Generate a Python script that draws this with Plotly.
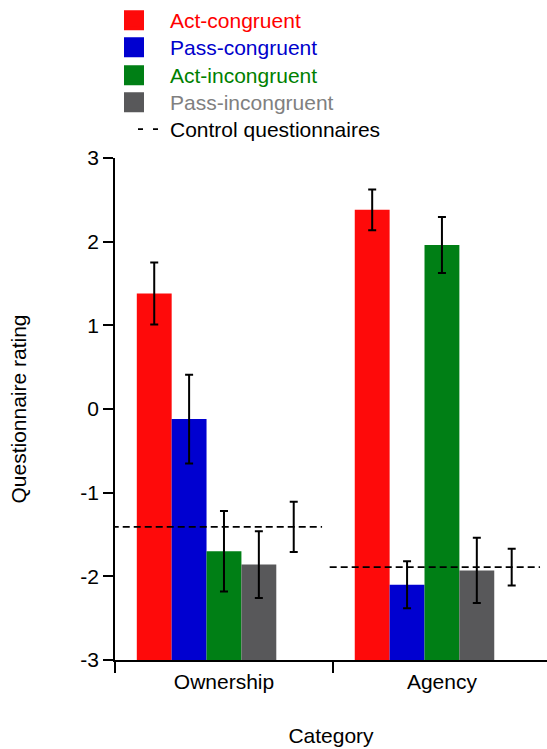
import plotly.graph_objects as go

categories = ["Ownership", "Agency"]
series_names = ["Act-congruent", "Pass-congruent", "Act-incongruent", "Pass-incongruent"]
control_name = "Control questionnaires"
act_congruent = [1.38, 2.38]
act_congruent_err = [0.37, 0.245]
pass_congruent = [-0.12, -2.10]
pass_congruent_err = [0.53, 0.28]
act_incongruent = [-1.70, 1.96]
act_incongruent_err = [0.48, 0.335]
pass_incongruent = [-1.86, -1.93]
pass_incongruent_err = [0.40, 0.39]
control = [-1.41, -1.89]
control_err = [0.30, 0.22]
y_tickvals = [-3, -2, -1, 0, 1, 2, 3]
y_ticktext = ["-3", "-2", "-1", "0", "1", "2", "3"]

bar_colors = ["#fe0a0a", "#0000d0", "#007f15", "#58585a"]
text_colors = ["#ff0000", "#0000cc", "#008000", "#808080"]
BASE = -3
FONT = "Liberation Sans, Arial, Helvetica, sans-serif"
FS = 21

series = [
    (act_congruent, act_congruent_err),
    (pass_congruent, pass_congruent_err),
    (act_incongruent, act_incongruent_err),
    (pass_incongruent, pass_incongruent_err),
]

xpos = list(range(len(categories)))
fig = go.Figure()

for (vals, errs), col in zip(series, bar_colors):
    fig.add_trace(go.Bar(
        x=xpos, y=[v - BASE for v in vals], base=BASE,
        marker=dict(color=col, line=dict(width=0)),
        error_y=dict(type="data", array=errs, color="black", thickness=2, width=4),
        showlegend=False,
    ))

# invisible control "bar" slot carrying only its error bar
fig.add_trace(go.Bar(
    x=xpos, y=[v - BASE for v in control], base=BASE,
    marker=dict(color="rgba(0,0,0,0)", line=dict(width=0)),
    error_y=dict(type="data", array=control_err, color="black", thickness=2, width=4),
    showlegend=False,
))

# control dashed lines
lx, ly = [], []
for i, c in zip(xpos, control):
    lx += [i - 0.515, i + 0.45, None]
    ly += [c, c, None]
fig.add_trace(go.Scatter(
    x=lx, y=ly, mode="lines",
    line=dict(color="black", width=1.8, dash="7px,4px"),
    showlegend=False,
))

# legend entries, each in its own legend box for exact row spacing
row_centers = [20, 47, 75, 102, 129]  # px from top
PLOT_TOP, PLOT_H, PLOT_W, PLOT_L = 158, 502, 432, 115
legend_names = []
for k, (name, col, tcol) in enumerate(zip(series_names, bar_colors, text_colors)):
    lname = "legend" if k == 0 else f"legend{k+1}"
    legend_names.append(lname)
    fig.add_trace(go.Scatter(
        x=[None], y=[None], mode="markers",
        marker=dict(symbol="square", size=16, color=col, line=dict(color=col, width=4)),
        name=f"<span style='color:{tcol}'>{name}</span>",
        showlegend=True, legend=lname,
    ))
fig.add_trace(go.Scatter(
    x=[None], y=[None], mode="lines",
    line=dict(color="black", width=1.8, dash="0px,5px,5px,10px,5px,200px"),
    name=control_name, showlegend=True, legend="legend5",
))
legend_names.append("legend5")

legend_layout = {}
for k, lname in enumerate(legend_names):
    top = row_centers[k] - 20
    if k < 4:
        left, iw = 98, 62
    else:
        left, iw = 128, 32
    legend_layout[lname] = dict(
        x=(left - PLOT_L) / PLOT_W, xanchor="left",
        y=1 + (PLOT_TOP - top) / PLOT_H, yanchor="top",
        font=dict(family=FONT, size=FS, color="black"),
        itemwidth=iw, bgcolor="rgba(0,0,0,0)",
    )

fig.update_layout(
    width=547, height=749,
    margin=dict(l=115, r=0, t=158, b=89),
    paper_bgcolor="white", plot_bgcolor="white",
    barmode="group", bargap=0.2, bargroupgap=0,
    font=dict(family=FONT, size=FS, color="black"),
    xaxis=dict(
        range=[-0.5, 1.482], tickvals=xpos, ticktext=categories,
        ticks="outside", ticklen=2, tickcolor="rgba(0,0,0,0)",
        showline=True, linecolor="black", linewidth=1.5,
        showgrid=False, zeroline=False,
        minor=dict(tickvals=[-0.5, 0.5, 1.5], ticks="outside", ticklen=11,
                   tickcolor="black", tickwidth=1.5, showgrid=False),
        title=dict(text="Category", standoff=36, font=dict(size=FS)),
        tickfont=dict(size=FS),
    ),
    yaxis=dict(
        range=[-3, 3], tickvals=y_tickvals, ticktext=y_ticktext,
        ticks="outside", ticklen=10, tickwidth=1.5, tickcolor="black",
        showline=True, linecolor="black", linewidth=1.5,
        showgrid=False, zeroline=False,
        title=dict(text="Questionnaire rating", standoff=48, font=dict(size=FS)),
        tickfont=dict(size=FS),
    ),
    **legend_layout,
)

fig.write_html("out.html")
